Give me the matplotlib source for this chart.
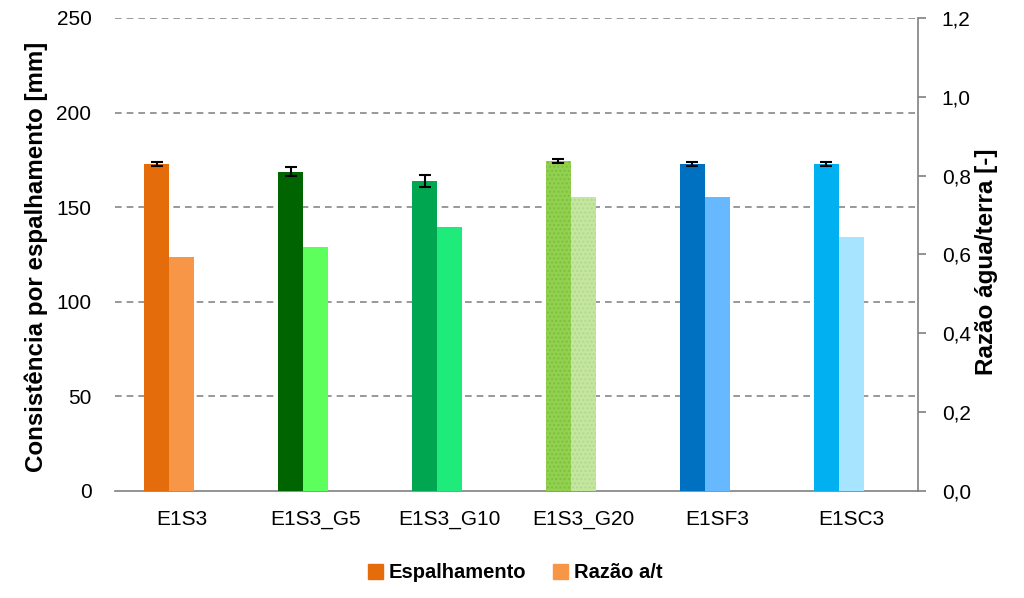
import matplotlib.pyplot as plt
import numpy as np

plt.rcParams['font.family'] = ['Liberation Sans', 'DejaVu Sans']

amostras = ['E1S3', 'E1S3_G5', 'E1S3_G10', 'E1S3_G20', 'E1SF3', 'E1SC3']
espalhamento = [172.8, 168.6, 163.8, 174.3, 172.8, 172.8]
erro = [0.8, 2.4, 3.2, 1.0, 0.8, 0.8]
razao_at = [0.594, 0.619, 0.670, 0.746, 0.746, 0.644]

cores_esp = ['#E46C0A', '#006400', '#00A650', '#92D050', '#0070C0', '#00B0F0']
cores_raz = ['#F79646', '#5CFF5C', '#1EEB7A', '#C4E6A0', '#66B8FF', '#A6E4FF']

fig = plt.figure(figsize=(10.24, 5.98), dpi=100)
ax = fig.add_axes([0.1123, 0.179, 0.7842, 0.791])
ax2 = ax.twinx()

x = np.arange(len(amostras))
w = 0.187

b1 = ax.bar(x - w, espalhamento, w, color=cores_esp, yerr=erro,
            error_kw=dict(ecolor='black', elinewidth=1.5, capsize=4, capthick=1.5),
            zorder=3, label='Espalhamento')
b2 = ax2.bar(x, razao_at, w, color=cores_raz, zorder=3, label='Razão a/t')

# E1S3_G20 bars have a speckled fill
b1[3].set_hatch('....')
b1[3].set_edgecolor('#7DBF3E')
b1[3].set_linewidth(0)
b2[3].set_hatch('....')
b2[3].set_edgecolor('#B2DA8A')
b2[3].set_linewidth(0)

ax.set_xlim(-0.5, len(amostras) - 0.5)
ax.set_ylim(0, 250)
ax.set_yticks(range(0, 251, 50))
ax2.set_ylim(0, 1.2)
ax2.set_yticks(np.arange(0, 1.21, 0.2))
ax2.set_yticklabels([f'{v:.1f}'.replace('.', ',') for v in np.arange(0, 1.21, 0.2)])

ax.set_xticks(x)
ax.set_xticklabels(amostras)
ax.yaxis.grid(True, linestyle=(0, (4, 3)), color='#888888', linewidth=1.2, zorder=0)
ax.get_ygridlines()[0].set_visible(False)
ax.set_axisbelow(True)

for a in (ax, ax2):
    a.spines['top'].set_visible(False)
    a.spines['left'].set_visible(False)
ax2.spines['bottom'].set_visible(False)
ax.spines['right'].set_visible(False)
ax.spines['bottom'].set_color('#808080')
ax.spines['bottom'].set_linewidth(1.2)
ax2.spines['right'].set_color('#808080')
ax2.spines['right'].set_linewidth(1.2)

ax.tick_params(axis='x', length=0, labelsize=15, pad=14)
ax.tick_params(axis='y', length=0, labelsize=15, pad=17)
ax2.tick_params(axis='y', length=6, width=1.2, color='#808080', labelsize=15, pad=11)

ax.set_ylabel('Consistência por espalhamento [mm]', fontsize=17.4, fontweight='bold')
ax.yaxis.set_label_coords(-0.083, 0.495)
ax2.set_ylabel('Razão água/terra [-]', fontsize=17.5, fontweight='bold')
ax2.yaxis.set_label_coords(1.071, 0.484)

# legend handles use the first group's colours
h1 = plt.Rectangle((0, 0), 1, 1, color=cores_esp[0])
h2 = plt.Rectangle((0, 0), 1, 1, color=cores_raz[0])
fig.legend([h1, h2], ['Espalhamento', 'Razão a/t'], loc='center', bbox_to_anchor=(0.503, 0.042),
           ncol=2, frameon=False, prop={'size': 14.5, 'weight': 'bold'},
           handlelength=0.75, handleheight=0.75, handletextpad=0.3, columnspacing=1.3)

fig.savefig('out.png', dpi=100)
